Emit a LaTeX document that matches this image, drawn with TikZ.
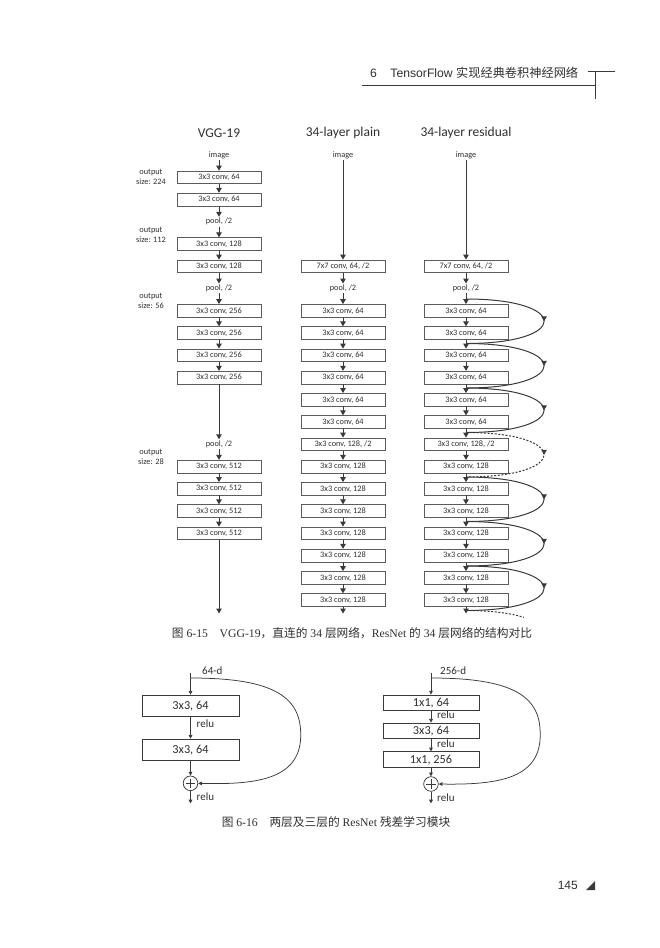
\documentclass[tikz,border=0pt]{standalone}
\usepackage{fontspec}
\setmainfont{Carlito}
\newfontfamily\cjk{Noto Sans CJK SC}
\newfontfamily\serifl{Liberation Serif}
\newfontfamily\sansl{Liberation Sans}
\usetikzlibrary{arrows.meta,decorations.markings}
\definecolor{ink}{HTML}{3A3A3A}
\definecolor{boxline}{HTML}{5C5C5C}
\definecolor{txt}{HTML}{303030}
\tikzset{
  conv/.style={draw=boxline, line width=0.6pt, fill=white, minimum width=84pt, minimum height=12.7pt, inner sep=0pt, text=txt, font=\fontsize{8.3}{10}\selectfont},
  lbl/.style={inner sep=1.2pt, text=txt, font=\fontsize{8.3}{10}\selectfont},
  outlbl/.style={inner sep=0pt, text=txt, align=center, font=\fontsize{8.3}{10}\selectfont},
  title/.style={inner sep=0pt, text=txt, font=\fontsize{13.5}{15}\selectfont},
  flow/.style={draw=ink, line width=1pt, -{Triangle[width=5.5pt,length=5pt]}},
  skipline/.style={draw=ink, line width=1pt, postaction={decorate},
    decoration={markings, mark=at position 0.5 with {\arrow{Triangle[width=5.5pt,length=5pt]}}}},
  dashskip/.style={skipline, dash pattern=on 2pt off 1.6pt},
  rb/.style={draw=ink, line width=0.8pt, fill=white, inner sep=0pt, text=txt, font=\fontsize{12.3}{14}\selectfont},
  rlbl/.style={inner sep=0pt, anchor=west, text=txt, font=\fontsize{11}{12}\selectfont},
  thinflow/.style={draw=ink, line width=0.75pt, -{Triangle[width=3.6pt,length=3.8pt]}},
  plus/.style={circle, draw=ink, line width=0.75pt, minimum size=14.6pt, inner sep=0pt, fill=white},
  capt/.style={inner sep=0pt, text=txt, font=\serifl\fontsize{11.7}{13}\selectfont},
}
\begin{document}
\begin{tikzpicture}[x=1pt,y=-1pt]
\path[use as bounding box, fill=white] (0,0) rectangle (660,948);

% page header
\node[inner sep=0pt, anchor=west, text=txt, font=\sansl\fontsize{12.2}{14}\selectfont] (hdr) at (370,73)
  {6\hspace{1.1em}TensorFlow {\cjk 实现经典卷积神经网络}};
\coordinate (hla) at (362,85.7);
\coordinate (hlb) at (595,85.7);
\coordinate (hta) at (595,71.7);
\coordinate (htb) at (595,99);
\coordinate (hba) at (588,71.7);
\coordinate (hbb) at (615,71.7);
\draw[ink, line width=0.6pt] (hla) -- (hlb);
\draw[ink, line width=0.6pt] (hta) -- (htb);
\draw[ink, line width=0.6pt] (hba) -- (hbb);

% titles
\node[title] (t1) at (219,133) {VGG-19};
\node[title] (t2) at (343,133) {34-layer plain};
\node[title] (t3) at (466,133) {34-layer residual};

% ---------------- VGG-19 ----------------
\node[lbl]  (v0)  at (219,155)    {image};
\node[conv] (v1)  at (219,177.25) {3x3 conv, 64};
\node[conv] (v2)  at (219,199.5)  {3x3 conv, 64};
\node[lbl]  (v3)  at (219,221.75) {pool, /2};
\node[conv] (v4)  at (219,244)    {3x3 conv, 128};
\node[conv] (v5)  at (219,266.25) {3x3 conv, 128};
\node[lbl]  (v6)  at (219,288.5)  {pool, /2};
\node[conv] (v7)  at (219,310.75) {3x3 conv, 256};
\node[conv] (v8)  at (219,333)    {3x3 conv, 256};
\node[conv] (v9)  at (219,355.25) {3x3 conv, 256};
\node[conv] (v10) at (219,377.5)  {3x3 conv, 256};
\node[lbl]  (v13) at (219,444.25) {pool, /2};
\node[conv] (v14) at (219,466.5)  {3x3 conv, 512};
\node[conv] (v15) at (219,488.75) {3x3 conv, 512};
\node[conv] (v16) at (219,511)    {3x3 conv, 512};
\node[conv] (v17) at (219,533.25) {3x3 conv, 512};
\coordinate (vend) at (219,613.5);
\foreach \a/\b in {v0/v1,v1/v2,v2/v3,v3/v4,v4/v5,v5/v6,v6/v7,v7/v8,v8/v9,v9/v10,v10/v13,v13/v14,v14/v15,v15/v16,v16/v17,v17/vend}
  \draw[flow] (\a) -- (\b);

\node[outlbl] (o1) at (151,177.25) {output\\size: 224};
\node[outlbl] (o2) at (151,234.5)  {output\\size: 112};
\node[outlbl] (o3) at (151,301.25) {output\\size: 56};
\node[outlbl] (o4) at (151,457)    {output\\size: 28};

% ---------------- 34-layer plain ----------------
\node[lbl]  (p0)  at (343,155)    {image};
\node[conv] (p5)  at (343,266.25) {7x7 conv, 64, /2};
\node[lbl]  (p6)  at (343,288.5)  {pool, /2};
\node[conv] (p7)  at (343,310.75) {3x3 conv, 64};
\node[conv] (p8)  at (343,333)    {3x3 conv, 64};
\node[conv] (p9)  at (343,355.25) {3x3 conv, 64};
\node[conv] (p10) at (343,377.5)  {3x3 conv, 64};
\node[conv] (p11) at (343,399.75) {3x3 conv, 64};
\node[conv] (p12) at (343,422)    {3x3 conv, 64};
\node[conv] (p13) at (343,444.25) {3x3 conv, 128, /2};
\node[conv] (p14) at (343,466.5)  {3x3 conv, 128};
\node[conv] (p15) at (343,488.75) {3x3 conv, 128};
\node[conv] (p16) at (343,511)    {3x3 conv, 128};
\node[conv] (p17) at (343,533.25) {3x3 conv, 128};
\node[conv] (p18) at (343,555.5)  {3x3 conv, 128};
\node[conv] (p19) at (343,577.75) {3x3 conv, 128};
\node[conv] (p20) at (343,600)    {3x3 conv, 128};
\coordinate (pend) at (343,613.5);
\foreach \a/\b in {p0/p5,p5/p6,p6/p7,p7/p8,p8/p9,p9/p10,p10/p11,p11/p12,p12/p13,p13/p14,p14/p15,p15/p16,p16/p17,p17/p18,p18/p19,p19/p20,p20/pend}
  \draw[flow] (\a) -- (\b);

% ---------------- 34-layer residual ----------------
\node[lbl]  (r0)  at (466,155)    {image};
\node[conv] (r5)  at (466,266.25) {7x7 conv, 64, /2};
\node[lbl]  (r6)  at (466,288.5)  {pool, /2};
\node[conv] (r7)  at (466,310.75) {3x3 conv, 64};
\node[conv] (r8)  at (466,333)    {3x3 conv, 64};
\node[conv] (r9)  at (466,355.25) {3x3 conv, 64};
\node[conv] (r10) at (466,377.5)  {3x3 conv, 64};
\node[conv] (r11) at (466,399.75) {3x3 conv, 64};
\node[conv] (r12) at (466,422)    {3x3 conv, 64};
\node[conv] (r13) at (466,444.25) {3x3 conv, 128, /2};
\node[conv] (r14) at (466,466.5)  {3x3 conv, 128};
\node[conv] (r15) at (466,488.75) {3x3 conv, 128};
\node[conv] (r16) at (466,511)    {3x3 conv, 128};
\node[conv] (r17) at (466,533.25) {3x3 conv, 128};
\node[conv] (r18) at (466,555.5)  {3x3 conv, 128};
\node[conv] (r19) at (466,577.75) {3x3 conv, 128};
\node[conv] (r20) at (466,600)    {3x3 conv, 128};
\coordinate (rend) at (466,613.5);
\foreach \a/\b in {r0/r5,r5/r6,r6/r7,r7/r8,r8/r9,r9/r10,r10/r11,r11/r12,r12/r13,r13/r14,r14/r15,r15/r16,r16/r17,r17/r18,r18/r19,r19/r20,r20/rend}
  \draw[flow] (\a) -- (\b);

% shortcut junctions
\coordinate (j6)  at (466,299);
\coordinate (j8)  at (466,343.5);
\coordinate (j10) at (466,388);
\coordinate (j12) at (466,432.5);
\coordinate (j14) at (466,477);
\coordinate (j16) at (466,521.5);
\coordinate (j18) at (466,566);
\coordinate (j20) at (466,610.5);
\coordinate (jx)  at (523.9,617.4);
\foreach \a/\b in {j6/j8,j8/j10,j10/j12,j14/j16,j16/j18,j18/j20}
  \draw[skipline] (\a) to[out=0,in=0,looseness=6] (\b);
\draw[dashskip] (j12) to[out=0,in=0,looseness=6] (j14);
\draw[ink, line width=1pt, dash pattern=on 2pt off 1.6pt] (j20) .. controls (491.75,610.5) and (511.06,613.25) .. (jx);

% caption 6-15
\node[capt] (c1) at (352,633)
  {{\cjk 图} 6-15\hspace{1em}VGG-19{\cjk ，直连的} 34 {\cjk 层网络，}ResNet {\cjk 的} 34 {\cjk 层网络的结构对比}};

% ---------------- two-layer block ----------------
\coordinate (ta) at (190.5,673);
\coordinate (sa) at (190.5,678);
\node[rb, minimum width=97pt, minimum height=21.7pt] (a1) at (190.5,706) {3x3, 64};
\node[rb, minimum width=97pt, minimum height=21.7pt] (a2) at (190.5,750) {3x3, 64};
\node[plus] (ca) at (190.5,783.3) {};
\coordinate (ea) at (190.5,803.5);
\draw[ink, line width=0.75pt] (ca.center) ++(0,-4.6) -- ++(0,9.2) (ca.center) ++(-4.6,0) -- ++(9.2,0);
\node[rlbl] (da) at (202,671) {64-d};
\node[rlbl] (ra1) at (196.5,723.3) {relu};
\node[rlbl] (ra2) at (196.5,796.7) {relu};
\draw[thinflow] (ta) -- (a1);
\draw[thinflow] (a1) -- (a2);
\draw[thinflow] (a2) -- (ca);
\draw[thinflow] (ca) -- (ea);
\draw[thinflow] (sa) .. controls (270,678) and (300,695) .. (300.7,733) .. controls (302,778) and (260,785) .. (ca.east);

% ---------------- three-layer block ----------------
\coordinate (tb) at (431,673);
\coordinate (sb) at (431,678);
\node[rb, minimum width=96pt, minimum height=15.7pt] (b1) at (431,702.8) {1x1, 64};
\node[rb, minimum width=96pt, minimum height=15.7pt] (b2) at (431,731)   {3x3, 64};
\node[rb, minimum width=96pt, minimum height=15.7pt] (b3) at (431,759.7) {1x1, 256};
\node[plus] (cb) at (431,784) {};
\coordinate (eb) at (431,803.5);
\draw[ink, line width=0.75pt] (cb.center) ++(0,-4.6) -- ++(0,9.2) (cb.center) ++(-4.6,0) -- ++(9.2,0);
\node[rlbl] (db) at (440,671) {256-d};
\node[rlbl] (rb1) at (437,715)   {relu};
\node[rlbl] (rb2) at (437,743.3) {relu};
\node[rlbl] (rb3) at (437,797.3) {relu};
\draw[thinflow] (tb) -- (b1);
\draw[thinflow] (b1) -- (b2);
\draw[thinflow] (b2) -- (b3);
\draw[thinflow] (b3) -- (cb);
\draw[thinflow] (cb) -- (eb);
\draw[thinflow] (sb) .. controls (510.5,678) and (540,695) .. (540.2,733) .. controls (541.5,778) and (500,785) .. (cb.east);

% caption 6-16
\node[capt] (c2) at (336,822)
  {{\cjk 图} 6-16\hspace{1em}{\cjk 两层及三层的} ResNet {\cjk 残差学习模块}};

% page number
\node[inner sep=0pt, anchor=east, text=txt, font=\sansl\fontsize{12}{14}\selectfont] (pg) at (578,885) {145};
\coordinate (tra) at (586,890);
\coordinate (trb) at (595,890);
\coordinate (trc) at (595,881);
\fill[ink] (tra) -- (trb) -- (trc) -- cycle;
\end{tikzpicture}
\end{document}
